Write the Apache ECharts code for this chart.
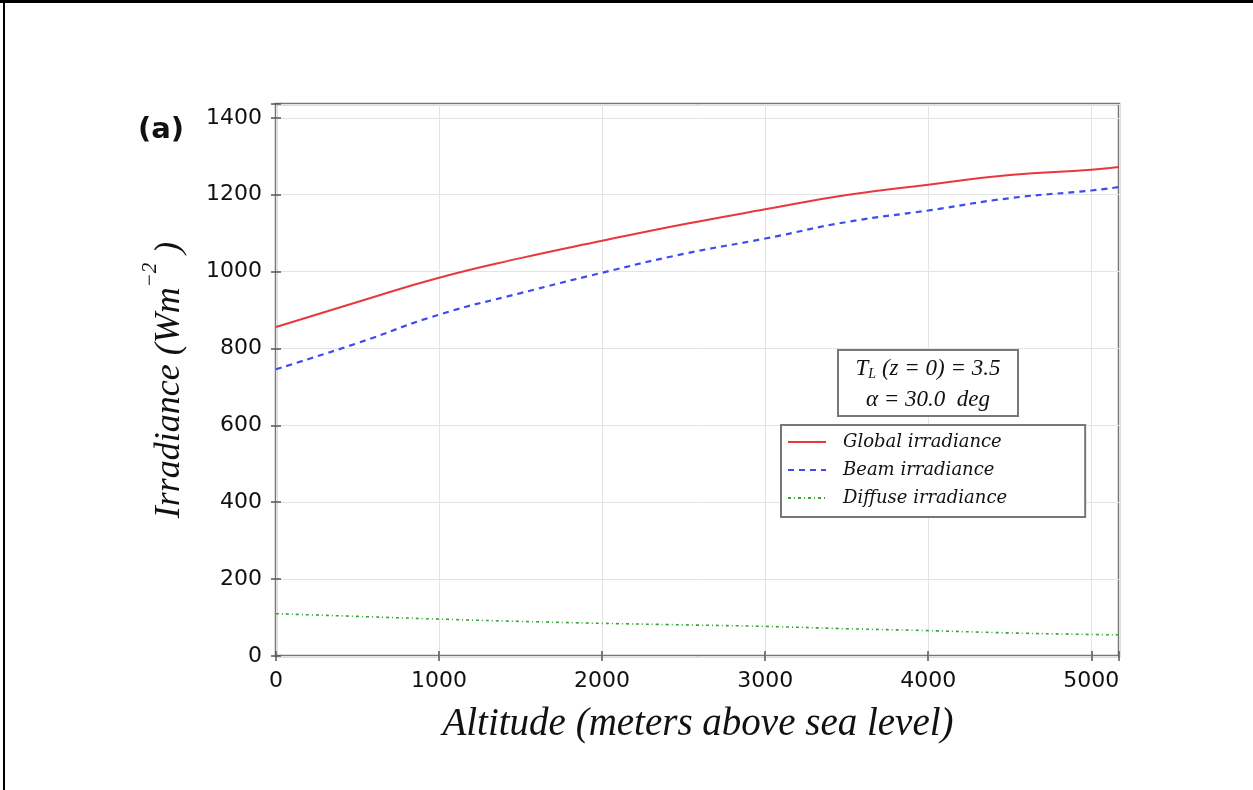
<!DOCTYPE html>
<html>
<head>
<meta charset="utf-8">
<script src="https://cdn.jsdelivr.net/npm/echarts@6/dist/echarts.min.js"></script>
<style>
html,body{margin:0;padding:0;background:#fff;}
#chart{width:1253px;height:790px;}
</style>
</head>
<body>
<div id="chart"></div>
<script>
const altitude = [0, 500, 1000, 1500, 2000, 2500, 3000, 3500, 4000, 4500, 5000, 5170];
const globalIrr = [856, 921, 984, 1035, 1080, 1123, 1162, 1199, 1226, 1251, 1265, 1272];
const beamIrr = [746, 814, 888, 944, 997, 1046, 1086, 1129, 1159, 1191, 1211, 1220];
const diffuseIrr = [110, 103, 96, 90, 85, 81, 77, 71, 66, 60, 56, 55];
const seriesNames = ['Global irradiance', 'Beam irradiance', 'Diffuse irradiance'];
const xTicks = [0, 1000, 2000, 3000, 4000, 5000];
const yTicks = [0, 200, 400, 600, 800, 1000, 1200, 1400];

const pairs = (ys) => altitude.map((x, i) => [x, ys[i]]);
const tickFmt = (ticks) => (v) => ticks.indexOf(Math.round(v)) >= 0 ? String(Math.round(v)) : '';

const G = {left: 276, top: 104, width: 843, height: 552};
const serif = '"Liberation Serif", "Times New Roman", serif';
const tickFont = {color: '#111', fontSize: 22, fontFamily: '"DejaVu Sans", sans-serif'};

const chart = echarts.init(document.getElementById('chart'), null, {renderer: 'canvas'});
const option = {
  backgroundColor: '#fff',
  animation: false,
  grid: {left: G.left, top: G.top, width: G.width, height: G.height, show: true, borderColor: '#777', borderWidth: 2.5, backgroundColor: 'transparent'},
  xAxis: [{
    type: 'value', min: 0, max: 5170, interval: 1000,
    axisLine: {show: false},
    axisTick: {show: true, inside: true, length: 5, lineStyle: {color: '#555', width: 1.5}},
    axisLabel: Object.assign({formatter: tickFmt(xTicks), margin: 14}, tickFont),
    splitLine: {show: true, lineStyle: {color: '#e4e4e4', width: 1}}
  }, {
    type: 'value', position: 'top', min: 0, max: 5170, interval: 1000,
    axisLine: {show: false},
    axisTick: {show: true, inside: true, length: 5, lineStyle: {color: '#555', width: 1.5}},
    axisLabel: {show: false}, splitLine: {show: false}
  }],
  yAxis: [{
    type: 'value', min: 0, max: 1436, interval: 200,
    axisLine: {show: false},
    axisTick: {show: true, inside: true, length: 5, lineStyle: {color: '#555', width: 1.5}},
    axisLabel: Object.assign({formatter: tickFmt(yTicks), margin: 14}, tickFont),
    splitLine: {show: true, lineStyle: {color: '#e4e4e4', width: 1}}
  }, {
    type: 'value', position: 'right', min: 0, max: 1436, interval: 200,
    axisLine: {show: false},
    axisTick: {show: true, inside: true, length: 5, lineStyle: {color: '#555', width: 1.5}},
    axisLabel: {show: false}, splitLine: {show: false}
  }],
  legend: {
    orient: 'vertical', left: 781, top: 425,
    data: seriesNames,
    itemWidth: 38, itemHeight: 14, itemGap: 10,
    padding: [8, 78, 10, 6],
    borderColor: '#777', borderWidth: 2, backgroundColor: '#fff',
    itemStyle: {opacity: 0},
    textStyle: {fontFamily: '"DejaVu Serif", serif', fontStyle: 'italic', fontSize: 18, lineHeight: 14, color: '#111', padding: [0, 0, 0, 12]}
  },
  series: [
    {name: seriesNames[0], type: 'line', data: pairs(globalIrr), smooth: true, symbol: 'none', lineStyle: {color: '#e8383d', width: 2}, itemStyle: {color: '#e8383d'}},
    {name: seriesNames[1], type: 'line', data: pairs(beamIrr), smooth: true, symbol: 'none', lineStyle: {color: '#3d4cf0', width: 2.2, type: [6, 5]}, itemStyle: {color: '#3d4cf0'}},
    {name: seriesNames[2], type: 'line', data: pairs(diffuseIrr), smooth: true, symbol: 'none', lineStyle: {color: '#3aa43a', width: 1.6, type: [3, 3, 1, 3]}, itemStyle: {color: '#3aa43a'}}
  ],
  graphic: [
    {type: 'line', z: 100, shape: {x1: 0, y1: 1.5, x2: 1253, y2: 1.5}, style: {stroke: '#000', lineWidth: 3}},
    {type: 'line', z: 100, shape: {x1: 4, y1: 0, x2: 4, y2: 790}, style: {stroke: '#000', lineWidth: 2}},
    {type: 'text', z: 100, x: 161, y: 130, style: {text: '(a)', font: 'bold 29px "DejaVu Sans", sans-serif', fill: '#111', textAlign: 'center', textVerticalAlign: 'middle'}},
    {type: 'text', z: 100, x: 698, y: 725, style: {text: 'Altitude (meters above sea level)', font: 'italic 39px ' + serif, fill: '#111', textAlign: 'center', textVerticalAlign: 'middle'}},
    {type: 'text', z: 100, x: 164, y: 380, rotation: Math.PI / 2, style: {
      text: '{a|Irradiance (Wm}{s|−2}{a| )}',
      textAlign: 'center', textVerticalAlign: 'middle',
      rich: {
        a: {fontFamily: serif, fontStyle: 'italic', fontSize: 36, fill: '#111', verticalAlign: 'bottom', lineHeight: 48},
        s: {fontFamily: serif, fontStyle: 'italic', fontSize: 21, fill: '#111', verticalAlign: 'top', lineHeight: 48, padding: [0, 0, 22, 0]}
      }
    }},
    {type: 'rect', z: 100, shape: {x: 838, y: 350, width: 180, height: 66}, style: {fill: '#fff', stroke: '#777', lineWidth: 2}},
    {type: 'text', z: 101, x: 928, y: 384, style: {
      text: '{t|T}{sub|L}{t| (z = 0) = 3.5}\n{t|α = 30.0  deg}',
      textAlign: 'center', textVerticalAlign: 'middle',
      rich: {
        t: {fontFamily: serif, fontStyle: 'italic', fontSize: 23, fill: '#111', lineHeight: 31},
        sub: {fontFamily: serif, fontStyle: 'italic', fontSize: 14, fill: '#111', lineHeight: 31, padding: [12, 0, 0, 0]}
      }
    }}
  ]
};
chart.setOption(option);
</script>
</body>
</html>
